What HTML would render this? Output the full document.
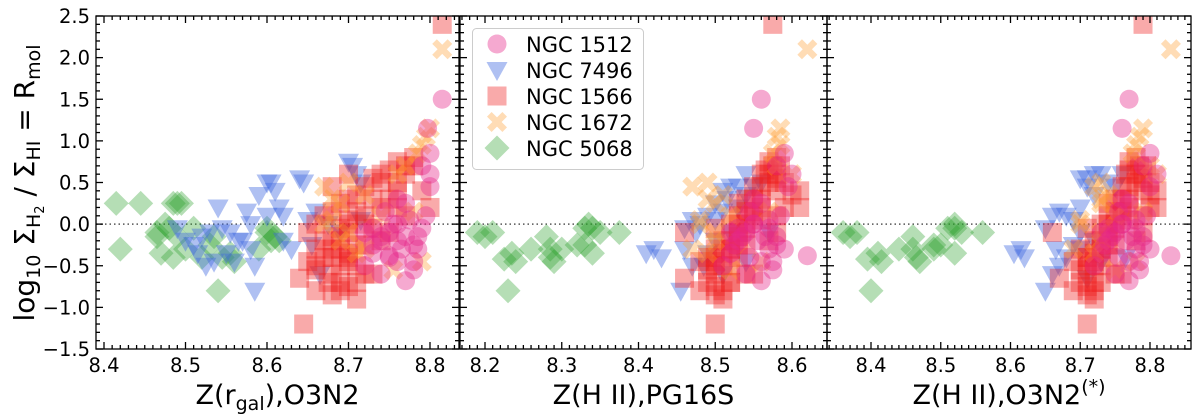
<!DOCTYPE html>
<html><head><meta charset="utf-8"><style>
html,body{margin:0;padding:0;background:#fff;}
svg{display:block;font-family:"DejaVu Sans","Liberation Sans",sans-serif;}
</style></head><body>
<svg id="chart" width="1200" height="418" viewBox="0 0 1200 418" xmlns="http://www.w3.org/2000/svg"></svg>
<script>
// ---------- data ----------
const yTicks=[2.5,2.0,1.5,1.0,0.5,0.0,-0.5,-1.0,-1.5];
const yTickLabels=["2.5","2.0","1.5","1.0","0.5","0.0","\u22120.5","\u22121.0","\u22121.5"];
const xTicks1=[8.4,8.5,8.6,8.7,8.8];
const xTicks2=[8.2,8.3,8.4,8.5,8.6];
const xTicks3=[8.4,8.5,8.6,8.7,8.8];
const galaxies=["NGC 1512","NGC 7496","NGC 1566","NGC 1672","NGC 5068"];
// NGC1566 squares (shared R_mol)
const sqY=[2.4,0.8,0.75,0.7,0.65,0.6,0.55,0.5,0.45,0.4,0.35,0.3,0.25,0.2,0.15,0.1,0.05,0.0,-0.05,-0.1,-0.15,-0.2,-0.25,-0.3,-0.35,-0.4,-0.45,-0.5,-0.55,-0.6,-0.65,-0.7,-0.75,-0.8,-0.85,-0.9,-1.2,0.6,0.3,0.0,-0.3,-0.5,-0.7,-0.2,0.1,0.45,-0.4,-0.6,-0.1,0.2,
 0.5,0.3,0.1,-0.1,-0.3,-0.5,-0.7,0.4,0.2,0.0,-0.2,-0.4,-0.6,-0.8,0.6,0.7,-0.25,-0.45,0.15,-0.05];
const sqX1=[8.815,8.78,8.76,8.77,8.75,8.74,8.73,8.76,8.72,8.79,8.71,8.7,8.69,8.8,8.68,8.67,8.7,8.66,8.69,8.65,8.68,8.67,8.71,8.66,8.7,8.68,8.65,8.69,8.66,8.72,8.64,8.675,8.7,8.69,8.68,8.71,8.645,8.7,8.73,8.72,8.68,8.66,8.71,8.74,8.77,8.68,8.7,8.73,8.75,8.76,
 8.74,8.75,8.72,8.7,8.69,8.71,8.69,8.76,8.74,8.7,8.69,8.67,8.68,8.66,8.77,8.78,8.72,8.7,8.71,8.73];
const sqX2=[8.575,8.58,8.57,8.575,8.565,8.56,8.58,8.59,8.55,8.61,8.6,8.54,8.53,8.61,8.55,8.53,8.56,8.52,8.5,8.46,8.53,8.52,8.54,8.5,8.51,8.5,8.48,8.52,8.49,8.54,8.46,8.49,8.5,8.51,8.5,8.51,8.5,8.57,8.55,8.54,8.52,8.5,8.52,8.57,8.58,8.56,8.53,8.55,8.58,8.59,
 8.57,8.56,8.55,8.53,8.52,8.51,8.52,8.58,8.56,8.53,8.51,8.49,8.5,8.48,8.58,8.585,8.53,8.5,8.54,8.54];
const sqX3=[8.79,8.78,8.77,8.785,8.77,8.765,8.79,8.8,8.76,8.81,8.8,8.75,8.74,8.81,8.76,8.74,8.77,8.73,8.71,8.66,8.74,8.73,8.75,8.7,8.72,8.71,8.69,8.73,8.7,8.75,8.67,8.7,8.71,8.72,8.71,8.72,8.71,8.78,8.76,8.75,8.73,8.71,8.73,8.78,8.79,8.77,8.74,8.76,8.79,8.8,
 8.78,8.77,8.76,8.74,8.73,8.72,8.72,8.79,8.77,8.74,8.72,8.71,8.71,8.69,8.79,8.795,8.74,8.72,8.75,8.75];
// NGC1512 circles
const ciY=[1.5,1.15,0.85,0.6,0.45,0.1,-0.05,-0.15,-0.3,-0.45,-0.6,0.25,0.0,-0.1,-0.2,-0.35,-0.5,0.3,-0.15,-0.25,-0.4,-0.05,-0.2,-0.3,0.15,-0.1,-0.38,-0.68,0.0,-0.15,-0.25,-0.45,0.05,-0.55,0.7];
const ciX1=[8.815,8.797,8.8,8.8,8.8,8.795,8.79,8.785,8.785,8.78,8.74,8.77,8.76,8.75,8.74,8.73,8.72,8.76,8.77,8.78,8.75,8.73,8.76,8.765,8.745,8.72,8.75,8.77,8.755,8.74,8.73,8.76,8.775,8.78,8.79];
const ciX2=[8.56,8.55,8.59,8.6,8.595,8.585,8.57,8.58,8.59,8.575,8.54,8.56,8.55,8.54,8.53,8.52,8.51,8.55,8.565,8.58,8.545,8.53,8.555,8.57,8.545,8.52,8.62,8.56,8.55,8.535,8.525,8.56,8.57,8.575,8.58];
const ciX3=[8.77,8.76,8.8,8.81,8.8,8.795,8.78,8.79,8.8,8.785,8.75,8.77,8.76,8.75,8.74,8.73,8.72,8.76,8.775,8.79,8.755,8.74,8.765,8.78,8.755,8.73,8.83,8.77,8.76,8.745,8.735,8.77,8.78,8.785,8.79];
// NGC1672 crosses
const crY=[2.1,1.15,1.05,0.95,0.85,0.6,0.45,0.3,0.15,0.0,-0.2,-0.45,-0.55,0.5,0.35,0.1,-0.1,-0.35,0.7,0.25,-0.3,0.05];
const crX1=[8.815,8.8,8.795,8.79,8.785,8.76,8.67,8.68,8.78,8.67,8.69,8.79,8.755,8.7,8.72,8.74,8.7,8.71,8.77,8.69,8.72,8.68];
const crX2=[8.62,8.585,8.58,8.585,8.575,8.6,8.47,8.49,8.57,8.48,8.5,8.56,8.52,8.49,8.51,8.52,8.5,8.49,8.58,8.5,8.47,8.48];
const crX3=[8.83,8.79,8.785,8.78,8.775,8.81,8.72,8.73,8.79,8.7,8.73,8.78,8.75,8.73,8.74,8.75,8.73,8.72,8.8,8.73,8.69,8.7];
// NGC7496 triangles
const trX1=[8.49,8.5,8.51,8.515,8.52,8.525,8.53,8.535,8.54,8.545,8.55,8.555,8.56,8.565,8.57,8.575,8.58,8.585,8.585,8.59,8.6,8.605,8.61,8.615,8.62,8.63,8.64,8.645,8.65,8.655,8.66,8.665,8.7,8.705,8.71,8.715,8.715,8.69,8.675,8.6,8.58,8.62];
const trY1=[-0.05,-0.2,-0.25,-0.35,-0.15,-0.5,-0.1,-0.45,0.2,-0.05,-0.35,-0.1,-0.45,-0.2,-0.2,0.15,-0.3,-0.5,-0.8,0.35,0.5,0.5,0.4,0.2,0.1,-0.3,0.55,0.5,0.05,-0.25,0.15,-0.6,0.75,0.7,0.6,0.5,0.05,-0.1,0.0,0.1,0.0,-0.2];
const trX2=[8.41,8.42,8.43,8.46,8.46,8.47,8.475,8.48,8.49,8.5,8.5,8.51,8.515,8.52,8.53,8.54,8.55,8.5,8.49,8.52,8.53,8.455,8.51,8.54,8.56,8.47,8.51,8.54,8.57,8.485];
const trY2=[-0.35,-0.3,-0.4,-0.05,-0.3,-0.5,-0.1,0.0,0.1,0.25,0.05,0.4,0.3,0.45,0.45,0.35,0.45,-0.2,-0.35,-0.1,0.2,-0.8,-0.6,0.6,0.5,0.05,0.15,-0.45,-0.1,-0.5];
const trX3=[8.605,8.62,8.615,8.65,8.66,8.67,8.665,8.67,8.66,8.65,8.69,8.7,8.7,8.71,8.72,8.73,8.74,8.7,8.69,8.71,8.72,8.71,8.75,8.76,8.68,8.7,8.73,8.765,8.72,8.68];
const trY3=[-0.35,-0.4,-0.3,-0.05,0.1,0.15,-0.3,-0.5,-0.6,-0.8,0.05,0.2,0.55,0.55,0.6,0.6,0.5,-0.1,-0.25,0.45,0.35,-0.65,0.45,0.6,0.1,-0.3,-0.45,-0.4,-0.2,-0.4];
// NGC5068 diamonds
const diX1=[8.415,8.445,8.42,8.465,8.47,8.475,8.48,8.485,8.49,8.495,8.485,8.49,8.51,8.52,8.53,8.535,8.54,8.545,8.555,8.56,8.6,8.6,8.605,8.61,8.615,8.59,8.465,8.5];
const diY1=[0.25,0.25,-0.3,-0.1,-0.35,0.0,-0.05,0.25,0.25,0.25,-0.4,-0.15,-0.05,-0.4,-0.25,-0.15,-0.8,-0.4,-0.35,-0.45,-0.05,-0.1,-0.2,-0.15,-0.2,-0.3,-0.15,-0.3];
const diX2=[8.19,8.21,8.225,8.23,8.235,8.24,8.26,8.28,8.285,8.29,8.3,8.32,8.33,8.335,8.34,8.34,8.35,8.375,8.33,8.285,8.2];
const diY2=[-0.1,-0.1,-0.42,-0.8,-0.35,-0.45,-0.3,-0.15,-0.4,-0.45,-0.3,-0.25,-0.05,0.0,-0.05,-0.35,-0.1,-0.1,-0.25,-0.3,-0.15];
const diX3=[8.36,8.38,8.395,8.4,8.41,8.415,8.44,8.46,8.465,8.47,8.49,8.5,8.51,8.52,8.52,8.52,8.53,8.56,8.49,8.46,8.37];
const diY3=[-0.1,-0.1,-0.42,-0.8,-0.35,-0.45,-0.3,-0.15,-0.4,-0.45,-0.3,-0.25,-0.05,0.0,-0.05,-0.35,-0.1,-0.1,-0.25,-0.3,-0.15];

// ---------- drawing ----------
const NS="http://www.w3.org/2000/svg";
const svg=document.getElementById('chart');
function mk(tag,attrs,parent){const e=document.createElementNS(NS,tag);for(const k in attrs)e.setAttribute(k,attrs[k]);(parent||svg).appendChild(e);return e;}
const Y0=16,Y1=349,YMAX=2.5,YMIN=-1.5;
function yS(v){return Y0+(YMAX-v)*(Y1-Y0)/(YMAX-YMIN);}
const panels=[
 {l:96,r:459,z0:8.4,p0:104,k:815,ticks:xTicks1,sx:[sqX1,sqY],cx:[ciX1,ciY],crx:[crX1,crY],tr:[trX1,trY1],di:[diX1,diY1]},
 {l:460,r:827,z0:8.2,p0:485,k:767.5,ticks:xTicks2,sx:[sqX2,sqY],cx:[ciX2,ciY],crx:[crX2,crY],tr:[trX2,trY2],di:[diX2,diY2]},
 {l:827,r:1191,z0:8.4,p0:871,k:697.5,ticks:xTicks3,sx:[sqX3,sqY],cx:[ciX3,ciY],crx:[crX3,crY],tr:[trX3,trY3],di:[diX3,diY3]}
];
const COL={ci:"#e7298a",tr:"#4169e1",sq:"#ee2020",cr:"#ff9a2a",di:"#2ca02c"};
const ALPHA={ci:0.4,tr:0.42,sq:0.38,cr:0.35,di:0.35};
const defs=mk('defs',{});
function marker(type,x,y,g){
 let e;
 if(type==='ci')e=mk('circle',{cx:x,cy:y,r:9.5},g);
 else if(type==='sq')e=mk('rect',{x:x-9.5,y:y-9.5,width:19,height:19},g);
 else if(type==='tr')e=mk('polygon',{points:`${x-10.5},${y-8} ${x+10.5},${y-8} ${x},${y+11}`},g);
 else if(type==='di')e=mk('polygon',{points:`${x},${y-12.5} ${x+12.5},${y} ${x},${y+12.5} ${x-12.5},${y}`},g);
 else if(type==='cr'){const a=10,w=4.6;e=mk('polygon',{points:`${x-a},${y-a+w} ${x-a+w},${y-a} ${x},${y-w} ${x+a-w},${y-a} ${x+a},${y-a+w} ${x+w},${y} ${x+a},${y+a-w} ${x+a-w},${y+a} ${x},${y+w} ${x-a+w},${y+a} ${x-a},${y+a-w} ${x-w},${y}`},g);}
 e.setAttribute('fill',COL[type]);e.setAttribute('fill-opacity',ALPHA[type]);
 return e;
}
panels.forEach((p,i)=>{
 const xS=z=>p.p0+(z-p.z0)*p.k;
 const cp=mk('clipPath',{id:'clip'+i},defs);mk('rect',{x:p.l,y:Y0,width:p.r-p.l,height:Y1-Y0},cp);
 const g=mk('g',{'clip-path':`url(#clip${i})`});
 
 
 const zl=mk('line',{x1:p.l,x2:p.r,y1:yS(0),y2:yS(0),stroke:'#555','stroke-width':1.6,'stroke-dasharray':'1.5,3'},g);
 
 
 const series=[['di',p.di],['tr',p.tr],['sq',p.sx],['cr',p.crx],['ci',p.cx]];
 const names={di:'ngc5068',tr:'ngc7496',sq:'ngc1566',cr:'ngc1672',ci:'ngc1512'};
 series.forEach(([t,[xs,ys]])=>{
  const sg=mk('g',{},g);
  
  
  for(let j=0;j<xs.length;j++){
   const m=marker(t,xS(xs[j]),yS(ys[j]),sg);
   
   
  }
 });
 const fr=mk('rect',{x:p.l,y:Y0,width:p.r-p.l,height:Y1-Y0,fill:'none',stroke:'#000','stroke-width':1.3});
 
 
 for(let v=-15;v<=25;v++){
  const y=yS(v/10),major=(v%5===0),len=major?7:4;
  mk('line',{x1:p.l,x2:p.l+len,y1:y,y2:y,stroke:'#000','stroke-width':1.3});
  mk('line',{x1:p.r,x2:p.r-len,y1:y,y2:y,stroke:'#000','stroke-width':1.3});
 }
 const zL=p.z0+(p.l-p.p0)/p.k, zR=p.z0+(p.r-p.p0)/p.k;
 for(let n=Math.ceil(zL*100);n<=Math.floor(zR*100);n++){
  const x=xS(n/100),major=(n%10===0),len=major?7:4;
  mk('line',{x1:x,x2:x,y1:Y1,y2:Y1-len,stroke:'#000','stroke-width':1.3});
  mk('line',{x1:x,x2:x,y1:Y0,y2:Y0+len,stroke:'#000','stroke-width':1.3});
 }
 p.ticks.forEach(t=>{
  const tx=mk('text',{x:xS(t),y:372,'text-anchor':'middle','font-size':19.5,fill:'#000'});
  tx.textContent=t.toFixed(1);
  
  
 });
 const cx=(p.l+p.r)/2;
 const tt=mk('text',{x:cx,y:404,'text-anchor':'middle','font-size':27,fill:'#000'});
 
 
 if(i===0){tt.innerHTML='Z(r<tspan font-size="19" dy="6">gal</tspan><tspan dy="-6">),O3N2</tspan>';}
 else if(i===1){tt.textContent='Z(H II),PG16S';}
 else {tt.innerHTML='Z(H II),O3N2<tspan font-size="19" dy="-11">(*)</tspan>';}
});
yTicks.forEach((v,i)=>{
 const t=mk('text',{x:90,y:yS(v)+7,'text-anchor':'end','font-size':19.5,fill:'#000'});
 t.textContent=yTickLabels[i];
 
 
});
const yt=mk('text',{x:0,y:0,transform:'translate(34,183) rotate(-90)','text-anchor':'middle','font-size':28,fill:'#000'});
yt.innerHTML='log<tspan font-size="19" dy="6">10</tspan><tspan dy="-6"> \u03A3</tspan><tspan font-size="19" dy="6">H</tspan><tspan font-size="13" dy="4">2</tspan><tspan dy="-10"> / \u03A3</tspan><tspan font-size="19" dy="6">HI</tspan><tspan dy="-6"> = R</tspan><tspan font-size="19" dy="6">mol</tspan>';


const lg=mk('g',{});


mk('rect',{x:472.5,y:28.5,width:171,height:141,rx:4,fill:'#fff','fill-opacity':0.85,stroke:'#ccc','stroke-width':1},lg);
const legTypes=['ci','tr','sq','cr','di'];
galaxies.forEach((nm,i)=>{
 const y=44+i*26;
 const e=mk('g',{},lg);
 
 
 marker(legTypes[i],497,y,e);
 const t=mk('text',{x:526,y:y+8,'font-size':21,fill:'#000'},e);
 t.textContent=nm;
});
</script>
</body></html>
